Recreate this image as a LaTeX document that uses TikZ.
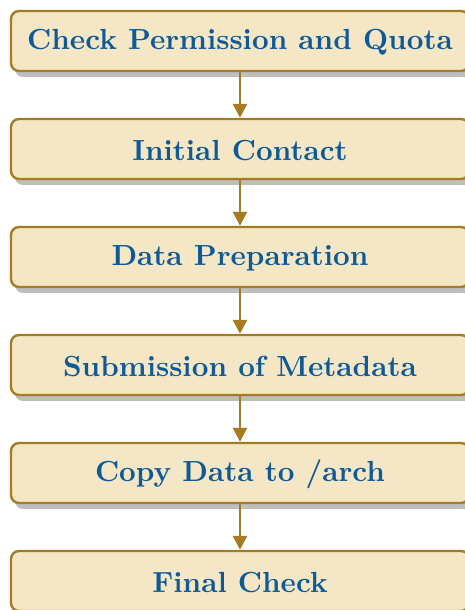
\documentclass[tikz,border=0pt]{standalone}
\usepackage{fontspec}
\usetikzlibrary{arrows.meta,shadows}
\newfontfamily\stagefont{lmroman10-bold.otf}
\definecolor{boxfill}{HTML}{F5E7C6}
\definecolor{boxline}{HTML}{A67C22}
\definecolor{boxtext}{HTML}{0E5A97}
\definecolor{shadowgray}{HTML}{BEBEBE}
% label text sits a little below the geometric centre of its box
\newcommand{\stagelabel}[1]{\raisebox{-1.5pt}[\height][\depth]{#1}}
\tikzset{
  stagebox/.style={
    draw=boxline, line width=2.4pt, fill=boxfill, rounded corners=8pt,
    minimum width=458pt, minimum height=60pt, inner sep=0pt,
    text=boxtext, font=\stagefont\fontsize{29.1}{34}\selectfont,
    drop shadow={shadow xshift=4pt, shadow yshift=-6pt, fill=shadowgray, opacity=1}
  },
  flow/.style={draw=boxline, line width=2.8pt,
    -{Triangle[width=14pt,length=14pt]}}
}
\begin{document}
\begin{tikzpicture}[x=1pt,y=1pt]
  \useasboundingbox (0,0) rectangle (465,610);
  \clip (0,0) rectangle (465,610);
  \node[stagebox] (s1) at (240,569) {\stagelabel{Check Permission and Quota}};
  \node[stagebox] (s2) at (240,461) {\stagelabel{Initial Contact}};
  \node[stagebox] (s3) at (240,353) {\stagelabel{Data Preparation}};
  \node[stagebox] (s4) at (240,245) {\stagelabel{Submission of Metadata}};
  \node[stagebox] (s5) at (240,137) {\stagelabel{Copy Data to /arch}};
  \node[stagebox] (s6) at (240,29) {\stagelabel{Final Check}};
  \foreach \a/\b in {s1/s2,s2/s3,s3/s4,s4/s5,s5/s6}
    \draw[flow] (\a.south) -- (\b.north);
\end{tikzpicture}
\end{document}
